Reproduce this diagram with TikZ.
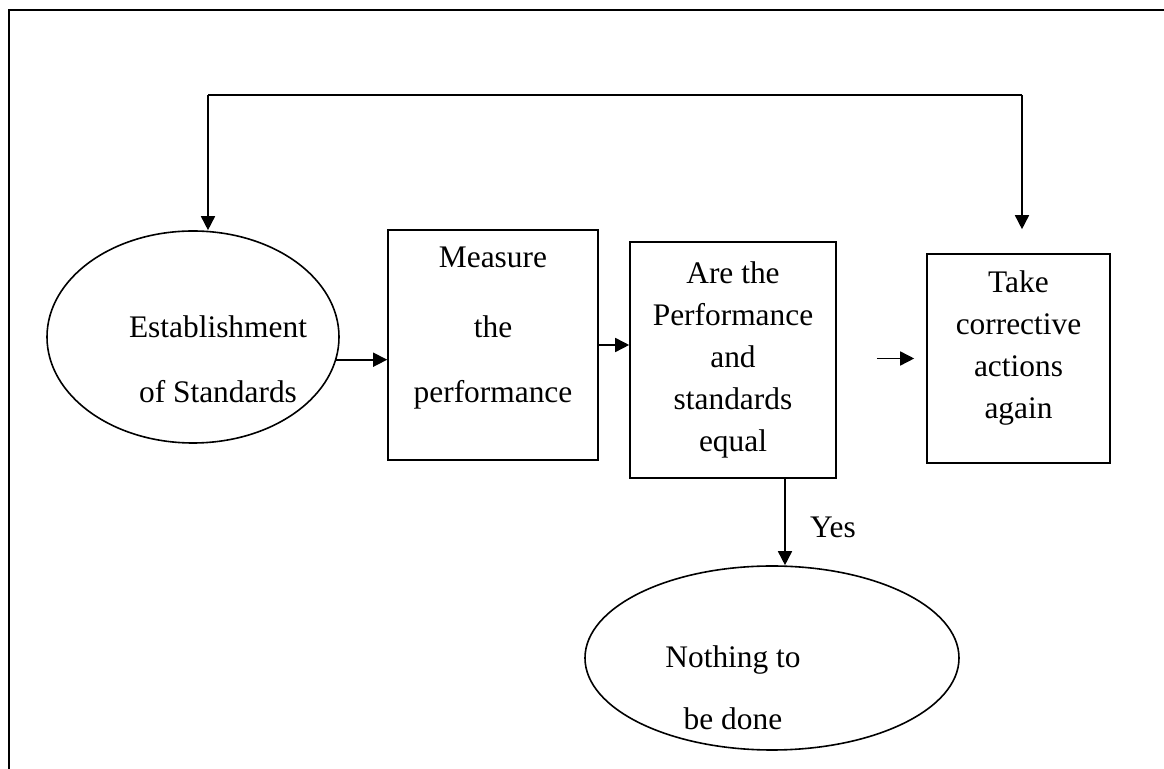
\documentclass[tikz,border=0pt]{standalone}
\usepackage{fontspec}
\setmainfont{Liberation Serif}
\usetikzlibrary{shapes.geometric,arrows.meta}

\begin{document}
\begin{tikzpicture}[x=0.5pt,y=-0.5pt,line width=0.8pt,
	arr/.style={-{Triangle[length=7pt,width=7pt]}},
	box/.style={draw,rectangle,inner sep=0pt},
	oval/.style={draw,ellipse,inner sep=0pt},
	txt/.style={anchor=base,font=\fontsize{15.7}{18}\selectfont,inner sep=0pt}]
	
	\useasboundingbox (0,0) rectangle (1164,769);
	\draw[line width=1pt] (9,769) -- (9,10) -- (1164,10);
	
	\node[oval, minimum width=146pt, minimum height=106pt] (est) at (193,337) {};
	\node[box, minimum width=105pt, minimum height=115pt] (meas) at (493,345) {};
	\node[box, minimum width=103pt, minimum height=118pt] (are) at (733,360) {};
	\node[box, minimum width=91.5pt, minimum height=104.5pt] (take) at (1018.5,358.5) {};
	\node[oval, minimum width=187pt, minimum height=92pt] (none) at (772,658) {};
	
	\node[txt] (est1) at (218,338) {Establishment};
	\node[txt] (est2) at (218,403) {of Standards};
	\node[txt] (meas1) at (493,268) {Measure};
	\node[txt] (meas2) at (493,338) {the};
	\node[txt] (meas3) at (493,403) {performance};
	\node[txt] (are1) at (733,284) {Are the};
	\node[txt] (are2) at (733,326) {Performance};
	\node[txt] (are3) at (733,368) {and};
	\node[txt] (are4) at (733,410) {standards};
	\node[txt] (are5) at (733,452) {equal};
	\node[txt] (take1) at (1018.5,293) {Take};
	\node[txt] (take2) at (1018.5,335) {corrective};
	\node[txt] (take3) at (1018.5,377) {actions};
	\node[txt] (take4) at (1018.5,419) {again};
	\node[txt] (none1) at (733,668) {Nothing to};
	\node[txt] (none2) at (733,730) {be done};
	\node[txt] (yes) at (833,538) {Yes};
	
	\coordinate (loopl) at (208,95);
	\coordinate (loopr) at (1022,95);
	\coordinate (yesx) at (785,0);
	
	\draw[arr] (est.-9) -- (est.-9 -| meas.west);
	\draw[arr] (meas.east) -- (meas.east -| are.west);
	\draw[arr, shorten <=20pt, shorten >=6pt] (are.east |- take.west) -- (take.west);
	\draw[arr] (are.south -| yesx) -- (yesx |- none.north);
	\draw[arr] (loopl) -- (loopl |- est.north);
	\draw[arr, shorten >=12pt] (loopr) -- (loopr |- take.north);
	\draw (loopl) -- (loopr);
	
\end{tikzpicture}
\end{document}
